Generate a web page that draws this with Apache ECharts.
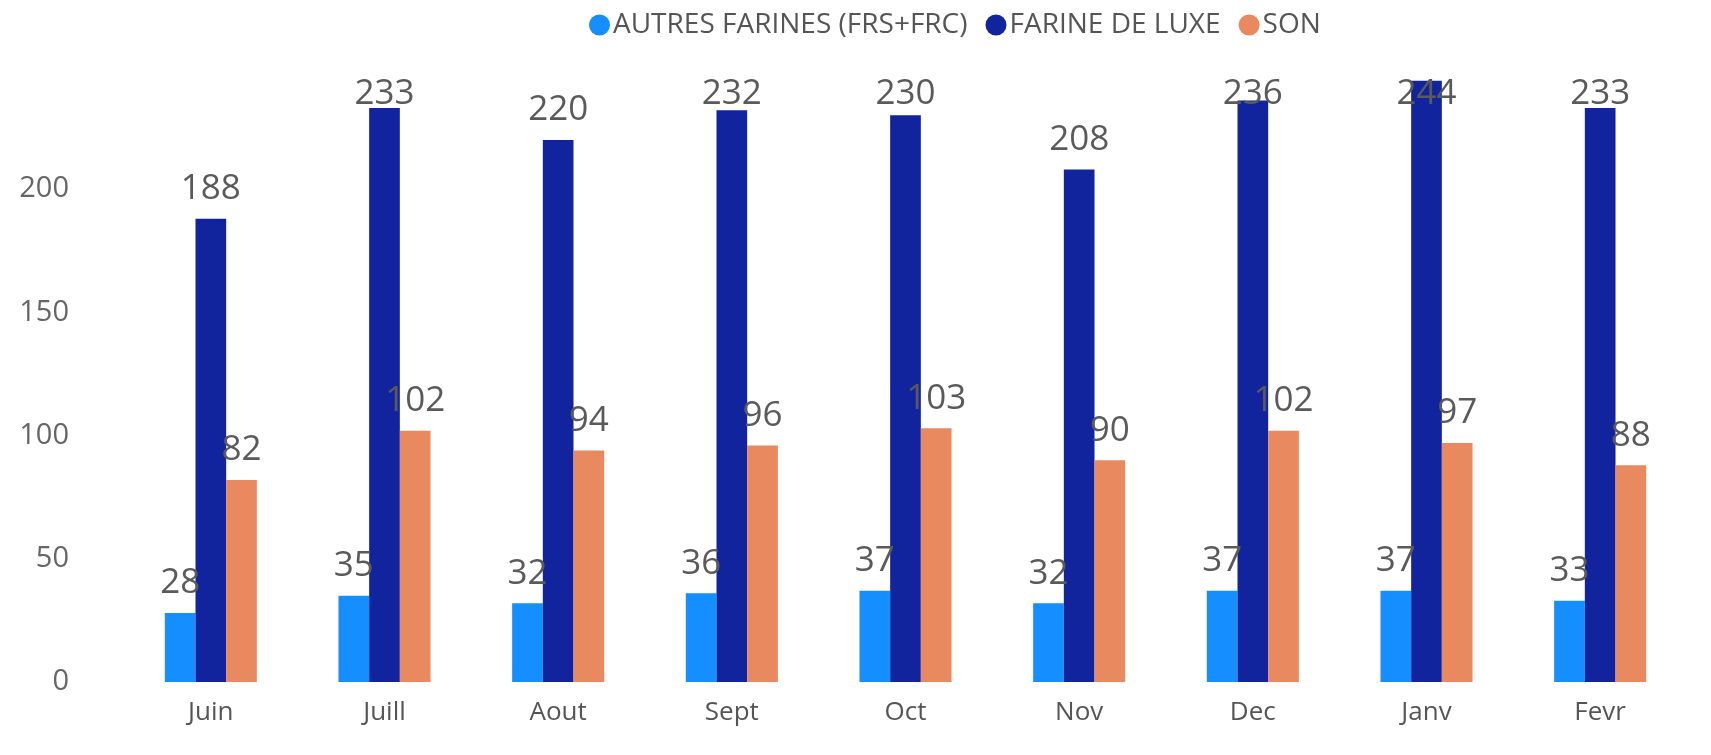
<!DOCTYPE html>
<html>
<head>
<meta charset="utf-8">
<script src="https://cdn.jsdelivr.net/npm/echarts@6/dist/echarts.min.js"></script>
<style>
html,body{margin:0;padding:0;background:#fff;}
#chart{width:1711px;height:755px;}
</style>
</head>
<body>
<div id="chart"></div>
<script>
const categories = ['Juin','Juill','Aout','Sept','Oct','Nov','Dec','Janv','Fevr'];
const autresFarines = [28,35,32,36,37,32,37,37,33];
const farineLuxe = [188,233,220,232,230,208,236,244,233];
const son = [82,102,94,96,103,90,102,97,88];
const seriesNames = ['AUTRES FARINES (FRS+FRC)','FARINE DE LUXE','SON'];
const colors = ['#158EFF','#12239E','#E8895F'];

const FONT = '"Open Sans", "Noto Sans", sans-serif';
const LABEL_MIN_CENTER = 94;
const chart = echarts.init(document.getElementById('chart'));
const lbl = {show:true, position:'top', distance:12, color:'#5a5a5a', fontSize:35, fontFamily:FONT};
function clampLabel(params){
  const r = params.labelRect;
  const c = r.y + r.height / 2;
  if (c < LABEL_MIN_CENTER) return {dy: LABEL_MIN_CENTER - c};
  return {};
}
chart.setOption({
  animation:false,
  color:colors,
  legend:{
    top:6, left:584,
    icon:'circle', itemWidth:21, itemHeight:21, itemGap:18,
    textStyle:{fontSize:28, color:'#555', fontFamily:FONT, padding:[0,0,0,-2]},
    data:seriesNames
  },
  grid:{left:124, right:24, top:66, bottom:73, containLabel:false},
  xAxis:{
    type:'category', data:categories,
    axisLine:{show:false}, axisTick:{show:false},
    axisLabel:{fontSize:26, color:'#555', margin:18, fontFamily:FONT}
  },
  yAxis:{
    type:'value', min:0, max:250, interval:50,
    splitLine:{show:false},
    axisLabel:{fontSize:29, color:'#666', margin:55, fontFamily:FONT, showMaxLabel:false}
  },
  series:[
    {name:seriesNames[0], type:'bar', data:autresFarines, barGap:'0%', barCategoryGap:'47%', label:lbl},
    {name:seriesNames[1], type:'bar', data:farineLuxe, barGap:'0%', barCategoryGap:'47%', label:lbl, labelLayout:clampLabel},
    {name:seriesNames[2], type:'bar', data:son, barGap:'0%', barCategoryGap:'47%', label:lbl}
  ]
});
</script>
</body>
</html>
